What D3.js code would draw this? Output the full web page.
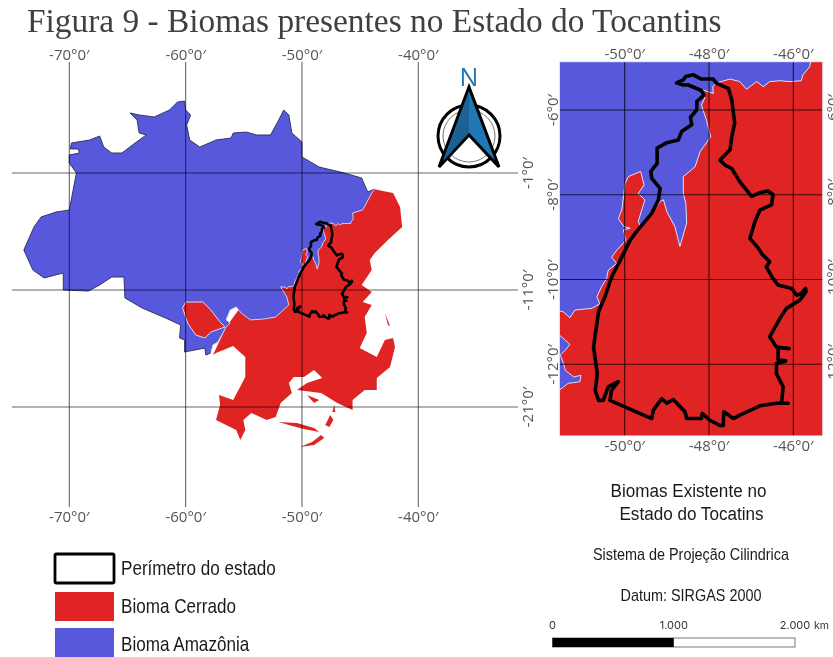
<!DOCTYPE html>
<html lang="pt">
<head>
<meta charset="utf-8">
<title>Figura 9</title>
<script src="https://cdn.jsdelivr.net/npm/d3@7"></script>
<style>
html,body{margin:0;padding:0;background:#fff}
svg{display:block;filter:blur(0.35px)}
</style>
</head>
<body>
<svg id="chart" width="833" height="657"></svg>
<script>
const titleText = "Figura 9 - Biomas presentes no Estado do Tocantins";

const overviewLonTicks = [-70, -60, -50, -40];
const overviewLatTicks = [-1, -11, -21];
const detailLonTicks = [-50, -48, -46];
const detailLatTicks = [-6, -8, -10, -12];

const legendLabels = ["Perímetro do estado", "Bioma Cerrado", "Bioma Amazônia"];
const infoLines = ["Biomas Existente no", "Estado do Tocatins", "Sistema de Projeção Cilindrica", "Datum: SIRGAS 2000"];
const scaleBarKm = [0, 1000, 2000];
const scaleBarLabels = ["0", "1.000", "2.000"];

const tocantinsOutline = [
[-48.77,-5.36],[-48.61,-5.29],[-48.55,-5.21],[-48.37,-5.17],[-48.18,-5.27],[-47.90,-5.27],[-47.82,-5.37],[-47.54,-5.49],
[-47.46,-5.76],[-47.42,-6.08],[-47.39,-6.31],[-47.46,-6.63],[-47.50,-6.94],[-47.74,-7.18],[-47.62,-7.30],[-47.46,-7.38],
[-47.27,-7.69],[-46.99,-8.04],[-46.79,-7.95],[-46.60,-7.91],[-46.48,-8.00],[-46.52,-8.24],[-46.79,-8.36],[-46.91,-8.63],
[-47.03,-9.03],[-46.83,-9.26],[-46.75,-9.39],[-46.56,-9.58],[-46.64,-9.70],[-46.48,-9.98],[-46.36,-10.13],[-46.04,-10.21],
[-45.92,-10.37],[-45.81,-10.33],[-45.71,-10.21],[-45.70,-10.29],[-45.85,-10.49],[-46.16,-10.68],[-46.32,-10.92],[-46.56,-11.35],
[-46.40,-11.59],[-46.10,-11.63],[-46.36,-11.60],[-46.36,-11.90],[-46.18,-11.92],[-46.40,-11.98],[-46.40,-12.22],[-46.24,-12.53],
[-46.28,-12.92],[-46.12,-12.92],[-46.40,-12.92],[-46.79,-12.98],[-47.27,-13.20],[-47.42,-13.28],[-47.65,-13.12],[-47.66,-13.44],
[-47.74,-13.44],[-47.98,-13.32],[-48.16,-13.16],[-48.18,-13.28],[-48.53,-13.28],[-48.57,-13.12],[-48.85,-12.83],[-49.00,-12.92],
[-49.12,-12.81],[-49.32,-13.08],[-49.36,-13.28],[-50.35,-12.85],[-50.31,-12.61],[-50.15,-12.41],[-50.39,-12.53],[-50.51,-12.85],
[-50.62,-12.85],[-50.70,-12.61],[-50.65,-12.22],[-50.74,-11.59],[-50.62,-10.76],[-50.47,-10.41],[-50.31,-9.94],[-50.07,-9.47],
[-49.87,-9.07],[-49.72,-8.87],[-49.36,-8.44],[-49.20,-8.12],[-49.16,-7.85],[-49.36,-7.61],[-49.38,-7.45],[-49.23,-7.26],
[-49.23,-6.90],[-49.00,-6.77],[-48.73,-6.71],[-48.65,-6.51],[-48.41,-6.35],[-48.44,-6.17],[-48.29,-6.00],[-48.29,-5.80],
[-48.12,-5.65],[-48.18,-5.54],[-48.49,-5.41],[-48.61,-5.41],[-48.77,-5.36]
];

// Amazonia / Cerrado limit around Tocantins, shared by both maps
const biomeBorderNorth = [
[-45.59,-4.86],[-45.61,-4.98],[-45.77,-5.17],[-45.81,-5.31],[-46.08,-5.33],[-46.32,-5.31],[-46.56,-5.33],[-46.71,-5.45],
[-46.87,-5.33],[-47.11,-5.51],[-47.27,-5.33],[-47.50,-5.27],[-47.82,-5.36],[-47.91,-5.45],[-47.90,-5.61],[-48.14,-5.53],
[-48.10,-5.72],[-48.18,-5.88],[-48.06,-6.24],[-47.96,-6.63],[-48.10,-6.83],[-48.21,-6.98],[-48.33,-7.34],[-48.61,-7.57],
[-48.61,-7.97],[-48.55,-8.20],[-48.53,-8.67],[-48.69,-9.22],[-48.81,-8.75],[-49.00,-8.40],[-49.08,-8.12],[-49.16,-8.16],
[-49.32,-8.40],[-49.48,-8.59],[-49.62,-8.75],[-49.68,-8.63],[-49.52,-8.12],[-49.68,-7.97],[-49.54,-7.77],[-49.62,-7.45],
[-49.91,-7.57],[-49.99,-7.73],[-50.02,-7.97],[-50.07,-8.36],[-50.15,-8.56],[-50.02,-8.75],[-49.87,-8.79],[-50.03,-8.83],
[-49.97,-9.07],[-50.19,-9.31],[-50.31,-9.47],[-50.19,-9.62],[-50.39,-9.78],[-50.43,-9.98],[-50.55,-10.17],[-50.66,-10.41],
[-50.59,-10.57],[-50.78,-10.68],[-51.18,-10.72],[-51.30,-10.90],[-51.46,-10.76],[-51.55,-10.74]
];
const detailFrameCorners = [[-51.55,-13.69],[-45.30,-13.69],[-45.30,-4.86]];
const detailAmazonCorners = [[-51.55,-4.86]];
const detailAmazonSouth = [
[-51.55,-11.31],[-51.41,-11.43],[-51.30,-11.53],[-51.41,-11.67],[-51.53,-11.78],[-51.45,-11.98],[-51.41,-12.14],[-51.21,-12.30],
[-51.04,-12.26],[-51.06,-12.41],[-51.34,-12.45],[-51.55,-12.61]
];

// Overview: outer limit of the Amazon biome
const amazonNorthCoast = [
[-69.91,1.05],[-69.83,1.56],[-68.26,1.82],[-67.39,2.16],[-67.04,1.22],[-66.35,0.71],[-65.48,0.71],[-64.35,1.56],[-63.39,2.25],
[-64.00,2.42],[-64.17,3.53],[-64.78,4.13],[-64.00,3.96],[-62.70,3.79],[-61.39,4.38],[-60.70,5.07],[-60.09,5.15],[-60.00,4.38],
[-59.57,3.96],[-59.91,3.10],[-59.65,1.82],[-58.78,1.22],[-57.39,1.82],[-56.09,1.99],[-55.91,2.42],[-54.78,2.50],[-53.91,2.25],
[-52.70,2.25],[-52.00,3.53],[-51.57,4.38],[-51.13,3.96],[-50.87,2.42],[-50.00,1.65],[-50.00,0.37],[-48.52,-0.49],[-46.35,-1.00],
[-44.87,-1.43],[-44.35,-2.62],[-43.74,-2.37]
];
const biomeBorderEast = [[-43.74,-2.37],[-44.00,-2.71],[-44.78,-4.16],[-45.65,-4.42]];
const biomeBorderSouth = [
[-51.83,-10.74],[-51.30,-11.60],[-51.13,-12.28],[-52.26,-13.31],[-53.30,-13.48],[-54.43,-13.56],[-55.22,-12.97],[-55.65,-12.45],
[-56.17,-12.71],[-56.52,-13.56],[-56.17,-13.82],[-56.52,-14.16],[-57.22,-15.44],[-57.65,-15.70],[-57.83,-16.38]
];
const amazonSouthCoast = [
[-57.83,-16.38],[-58.26,-16.56],[-58.35,-15.96],[-60.09,-16.30],[-60.09,-15.27],[-60.52,-15.10],[-60.43,-13.99],[-61.74,-13.39],
[-63.74,-12.54],[-65.22,-11.68],[-65.30,-9.89],[-66.35,-9.89],[-67.39,-10.57],[-68.35,-11.09],[-70.52,-11.00],[-70.52,-9.55],
[-72.17,-9.97],[-73.13,-9.29],[-73.91,-7.58],[-73.04,-5.62],[-72.43,-4.76],[-71.13,-4.33],[-70.00,-4.16],[-69.39,-1.00],
[-70.00,-0.15],[-70.00,0.54],[-69.13,0.71],[-69.22,1.05],[-69.91,1.05]
];
const cerradoOuter = [
[-43.74,-2.37],[-43.48,-2.45],[-42.17,-2.71],[-41.57,-3.91],[-41.39,-5.62],[-42.61,-6.73],[-43.74,-7.84],[-44.17,-8.44],[-44.00,-9.29],
[-44.87,-10.57],[-44.00,-11.17],[-44.78,-12.03],[-44.00,-12.28],[-44.61,-13.31],[-44.43,-14.68],[-45.04,-15.96],[-43.57,-16.73],
[-42.87,-15.27],[-42.17,-15.10],[-42.00,-15.87],[-42.43,-17.58],[-43.57,-18.52],[-43.57,-19.55],[-44.61,-19.55],[-45.65,-20.40],
[-45.65,-21.26],[-46.96,-20.66],[-48.35,-19.80],[-50.43,-19.55],[-49.57,-18.95],[-48.26,-18.52],[-48.96,-17.84],[-49.83,-18.44],
[-50.70,-18.44],[-51.13,-18.95],[-50.87,-19.80],[-51.83,-20.66],[-52.26,-21.85],[-53.04,-22.11],[-54.35,-21.51],[-55.04,-22.11],
[-54.87,-22.97],[-55.30,-23.82],[-55.65,-22.97],[-57.39,-22.11],[-57.04,-20.83],[-57.13,-19.97],[-55.91,-20.40],[-54.87,-18.44],
[-54.87,-16.73],[-55.91,-15.79],[-57.39,-16.38],[-57.65,-16.56],[-56.52,-14.16],[-52.00,-8.00]
];
const cerradoEnclave = [
[-60.00,-12.03],[-58.52,-12.03],[-57.83,-12.71],[-57.04,-13.74],[-56.61,-14.16],[-57.83,-14.59],[-58.35,-15.10],[-59.13,-14.85],
[-59.83,-13.82],[-60.26,-12.54]
];
const cerradoIslands = [
[[-52.00,-22.28],[-50.43,-22.37],[-48.96,-22.79],[-48.52,-23.14],[-49.83,-22.88],[-51.13,-22.54]],
[[-50.17,-24.42],[-49.13,-23.99],[-48.35,-23.39],[-48.09,-23.65],[-48.96,-24.25]],
[[-49.57,-19.97],[-48.52,-20.40],[-48.96,-20.66]],
[[-47.57,-21.68],[-47.30,-22.11],[-47.65,-22.71],[-48.00,-22.54]],
[[-47.22,-20.83],[-47.13,-21.43],[-47.39,-21.43]],
[[-42.87,-12.97],[-42.61,-13.99],[-42.43,-14.08],[-42.70,-13.39]]
];

// ---- Drawing ----
const RED = "#e02323", BLUE = "#5858dc", EDGE = "#d9dcf6", GREY = "#555";
const svg = d3.select("#chart");

svg.append("text").attr("x", 27).attr("y", 32)
  .attr("font-family", "Liberation Serif").attr("font-size", 33.4).attr("fill", "#404040")
  .text(titleText);

const fmt = d => `${d}°0′`;
function addLabel(x, y, txt, rotate) {
  svg.append("text").attr("transform", `translate(${x},${y})` + (rotate ? " rotate(-90)" : ""))
    .attr("text-anchor", "middle").attr("font-family", "Open Sans").attr("font-size", 15)
    .attr("fill", GREY).text(txt);
}

// Overview map
const xL = d3.scaleLinear().domain([-70, -40]).range([69.3, 418.3]);
const yL = d3.scaleLinear().domain([-1, -21]).range([173, 407]);
const lineL = d3.line().x(d => xL(d[0])).y(d => yL(d[1]));
const gL = svg.append("g");

const overviewBorder = [].concat(biomeBorderEast, biomeBorderNorth, biomeBorderSouth);
const amazonOverview = [].concat(amazonNorthCoast, overviewBorder, amazonSouthCoast);
gL.append("path").attr("d", lineL(cerradoOuter) + "Z").attr("fill", RED);
gL.selectAll(".isl").data(cerradoIslands).join("path").attr("d", d => lineL(d) + "Z").attr("fill", RED);
gL.append("path").attr("d", lineL(amazonOverview) + "Z").attr("fill", BLUE);
gL.append("path").attr("d", lineL(cerradoEnclave) + "Z").attr("fill", RED).attr("stroke", EDGE).attr("stroke-width", 1);
[amazonNorthCoast, amazonSouthCoast].forEach(c =>
  gL.append("path").attr("d", lineL(c)).attr("fill", "none").attr("stroke", "#2b2b55").attr("stroke-width", 0.9));
gL.append("path").attr("d", lineL(overviewBorder)).attr("fill", "none").attr("stroke", EDGE).attr("stroke-width", 0.9);
gL.append("path").attr("d", lineL(tocantinsOutline) + "Z").attr("fill", "none").attr("stroke", "#000")
  .attr("stroke-width", 2.6).attr("stroke-linejoin", "round");

gL.selectAll(".vl").data(overviewLonTicks).join("line")
  .attr("x1", d => xL(d)).attr("x2", d => xL(d)).attr("y1", 62).attr("y2", 507)
  .attr("stroke", "#000").attr("stroke-opacity", 0.6).attr("stroke-width", 1.1);
gL.selectAll(".hl").data(overviewLatTicks).join("line")
  .attr("x1", 12).attr("x2", 518).attr("y1", d => yL(d)).attr("y2", d => yL(d))
  .attr("stroke", "#000").attr("stroke-opacity", 0.6).attr("stroke-width", 1.1);
overviewLonTicks.forEach(t => { addLabel(xL(t), 60, fmt(t)); addLabel(xL(t), 522, fmt(t)); });
overviewLatTicks.forEach(t => addLabel(533, yL(t), fmt(t), true));

// Detail map
const xR = d3.scaleLinear().domain([-50, -46]).range([624.7, 793.3]);
const yR = d3.scaleLinear().domain([-6, -12]).range([110, 364.3]);
const lineR = d3.line().x(d => xR(d[0])).y(d => yR(d[1]));
const frame = { x0: xR(-51.55), x1: xR(-45.30), y0: yR(-4.86), y1: yR(-13.69) };
const defs = svg.append("defs");
defs.append("clipPath").attr("id", "detailClip").append("rect")
  .attr("x", frame.x0).attr("y", frame.y0).attr("width", frame.x1 - frame.x0).attr("height", frame.y1 - frame.y0);
const gR = svg.append("g").attr("clip-path", "url(#detailClip)");
gR.append("path").attr("d", lineR(biomeBorderNorth.concat(detailFrameCorners)) + "Z").attr("fill", RED);
gR.append("path").attr("d", lineR(biomeBorderNorth.concat(detailAmazonCorners)) + "Z").attr("fill", BLUE);
gR.append("path").attr("d", lineR(detailAmazonSouth) + "Z").attr("fill", BLUE);
gR.append("path").attr("d", lineR(biomeBorderNorth)).attr("fill", "none").attr("stroke", EDGE).attr("stroke-width", 1);
gR.append("path").attr("d", lineR(detailAmazonSouth)).attr("fill", "none").attr("stroke", EDGE).attr("stroke-width", 1);
gR.selectAll(".vl").data(detailLonTicks).join("line")
  .attr("x1", d => xR(d)).attr("x2", d => xR(d)).attr("y1", frame.y0).attr("y2", frame.y1)
  .attr("stroke", "#000").attr("stroke-opacity", 0.75).attr("stroke-width", 1.1);
gR.selectAll(".hl").data(detailLatTicks).join("line")
  .attr("x1", frame.x0).attr("x2", frame.x1).attr("y1", d => yR(d)).attr("y2", d => yR(d))
  .attr("stroke", "#000").attr("stroke-opacity", 0.75).attr("stroke-width", 1.1);
gR.append("path").attr("d", lineR(tocantinsOutline) + "Z").attr("fill", "none").attr("stroke", "#000")
  .attr("stroke-width", 3.6).attr("stroke-linejoin", "round").attr("stroke-linecap", "round");
svg.append("rect").attr("x", frame.x0).attr("y", frame.y0).attr("width", frame.x1 - frame.x0).attr("height", frame.y1 - frame.y0)
  .attr("fill", "none").attr("stroke", "#e8e8f4").attr("stroke-width", 1);
detailLonTicks.forEach(t => { addLabel(xR(t), 59, fmt(t)); addLabel(xR(t), 451, fmt(t)); });
detailLatTicks.forEach(t => { addLabel(558, yR(t), fmt(t), true); addLabel(838, yR(t), fmt(t), true); });

// North arrow
const n = svg.append("g").attr("transform", "translate(469,136)");
n.append("text").attr("x", 0).attr("y", -50).attr("text-anchor", "middle").attr("font-family", "Open Sans")
  .attr("font-size", 25).attr("fill", "#1f78b4").text("N");
n.append("circle").attr("r", 31).attr("fill", "#fff").attr("stroke", "#000").attr("stroke-width", 3);
n.append("circle").attr("r", 26).attr("fill", "none").attr("stroke", "#777").attr("stroke-width", 1);
n.append("path").attr("d", "M0,-49L30,31L0,-1L-30,31Z").attr("fill", "#1f78b4").attr("stroke", "#000")
  .attr("stroke-width", 3).attr("stroke-linejoin", "miter");
n.append("path").attr("d", "M0,-46L-26,26L0,-3Z").attr("fill", "#174f78").attr("fill-opacity", 0.55);

// Legend
const sans = "Liberation Sans";
svg.append("rect").attr("x", 55).attr("y", 554).attr("width", 59).attr("height", 29).attr("rx", 1.5)
  .attr("fill", "#fff").attr("stroke", "#000").attr("stroke-width", 2.8);
svg.append("rect").attr("x", 55).attr("y", 592).attr("width", 59).attr("height", 29).attr("fill", RED);
svg.append("rect").attr("x", 55).attr("y", 628).attr("width", 59).attr("height", 29).attr("fill", BLUE);
const legendBaseline = [575, 613, 651];
legendLabels.forEach((t, i) => {
  svg.append("text").attr("transform", `translate(121,${legendBaseline[i]}) scale(0.855,1)`)
    .attr("font-family", sans).attr("font-size", 20).attr("fill", "#1a1a1a").text(t);
});

// Map info
const infoPos = [[688.5, 497, 19], [691.5, 520, 19], [691, 560, 16], [691, 601, 16]];
infoLines.forEach((t, i) => {
  svg.append("text").attr("transform", `translate(${infoPos[i][0]},${infoPos[i][1]}) scale(0.9,1)`)
    .attr("text-anchor", "middle").attr("font-family", sans).attr("font-size", infoPos[i][2]).attr("fill", "#1a1a1a").text(t);
});

// Scale bar
const xS = d3.scaleLinear().domain([0, 2000]).range([552.6, 795]);
svg.append("rect").attr("x", xS(0)).attr("y", 638).attr("width", xS(2000) - xS(0)).attr("height", 9)
  .attr("fill", "#fff").attr("stroke", "#555").attr("stroke-width", 0.8);
svg.append("rect").attr("x", xS(0)).attr("y", 638).attr("width", xS(1000) - xS(0)).attr("height", 9).attr("fill", "#000");
scaleBarKm.forEach((k, i) => {
  svg.append("text").attr("x", xS(k)).attr("y", 629).attr("text-anchor", "middle").attr("font-family", "Inter")
    .attr("font-size", 11).attr("fill", "#333").text(scaleBarLabels[i]);
});
svg.append("text").attr("x", 814).attr("y", 629).attr("font-family", "Inter").attr("font-size", 10.5).attr("fill", "#333").text("km");
</script>
</body>
</html>
